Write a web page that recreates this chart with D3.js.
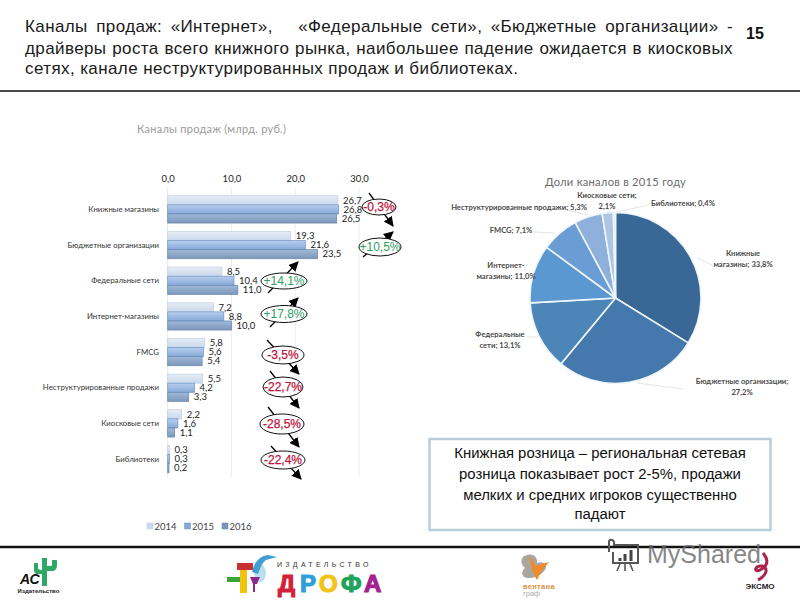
<!DOCTYPE html>
<html>
<head>
<meta charset="utf-8">
<script src="https://d3js.org/d3.v7.min.js"></script>
<style>
  html, body { margin: 0; padding: 0; background: #fff; }
  svg { display: block; }
  text { font-family: Lato, "Open Sans", sans-serif; }
  .slide { font-family: "Liberation Sans", Arial, sans-serif; }
</style>
</head>
<body>
<script>
// data
let channels = ["Книжные магазины", "Бюджетные организации", "Федеральные сети", "Интернет-магазины",
    "FMCG", "Неструктурированные продажи", "Киосковые сети", "Библиотеки"];
let years = ["2014", "2015", "2016"];
let values2014 = [26.7, 19.3, 8.5, 7.2, 5.8, 5.5, 2.2, 0.3];
let values2015 = [26.8, 21.6, 10.4, 8.8, 5.6, 4.2, 1.6, 0.3];
let values2016 = [26.5, 23.5, 11.0, 10.0, 5.4, 3.3, 1.1, 0.2];
let xTicks = [0, 10, 20, 30];
let growth = ["-0,3%", "+10,5%", "+14,1%", "+17,8%", "-3,5%", "-22,7%", "-28,5%", "-22,4%"];
let pieShares = [33.8, 27.2, 13.1, 11.0, 7.1, 5.3, 2.1, 0.4];
let pieLabels = [["Книжные", "магазины; 33,8%"], ["Бюджетные организации;", "27,2%"], ["Федеральные", "сети; 13,1%"],
    ["Интернет-", "магазины; 11,0%"], ["FMCG; 7,1%"], ["Неструктурированные продажи; 5,3%"],
    ["Киосковые сети;", "2,1%"], ["Библиотеки; 0,4%"]];
let titleLines = ["Каналы продаж: «Интернет»,   «Федеральные сети», «Бюджетные организации» -",
    "драйверы роста всего книжного рынка, наибольшее падение ожидается в киосковых",
    "сетях, канале неструктурированных продаж и библиотеках."];
let noteLines = ["Книжная розница – региональная сетевая", "розница показывает рост 2-5%, продажи",
    "мелких и средних игроков существенно", "падают"];

// layout of the hand-placed bits
let barColors = [["#e6edf6", "#c9d8eb"], ["#b7cfee", "#86a8d8"], ["#a0b9d8", "#7c97ba"]];
let barEdges = ["#c3d0e0", "#6f94c2", "#6685ad"];
let pieColors = ["#3a6896", "#4578ad", "#4c86b9", "#5b97d0", "#6a9dd4", "#8eb0da", "#adc6e4", "#dfe9f4"];
let ovals = [
    { cx: 379, cy: 207, rx: 17, ry: 8, x1: 369, y1: 193, x2: 393, y2: 226 },
    { cx: 380, cy: 247, rx: 21, ry: 9, x1: 363, y1: 257, x2: 393, y2: 232 },
    { cx: 284, cy: 281, rx: 23, ry: 8, x1: 268, y1: 293, x2: 298, y2: 262 },
    { cx: 284, cy: 314, rx: 23, ry: 8.5, x1: 270, y1: 327, x2: 298, y2: 298 },
    { cx: 283, cy: 355, rx: 21, ry: 9, x1: 267, y1: 340, x2: 299, y2: 374 },
    { cx: 283, cy: 387, rx: 20, ry: 10, x1: 270, y1: 371, x2: 299, y2: 408 },
    { cx: 282, cy: 424, rx: 22, ry: 10, x1: 268, y1: 407, x2: 299, y2: 447 },
    { cx: 283, cy: 460, rx: 22, ry: 9, x1: 271, y1: 446, x2: 301, y2: 479 }
];
let pieLabelPos = [[743, 256], [742, 384], [500, 337], [506, 268], [511, 233], [519, 210], [607, 198], [683, 206]];
let leaders = [[697, 258, 712, 265], [637, 383, 683, 389], [527, 337, 538, 337], [533, 232, 555, 233],
    [568, 210, 588, 215], [608, 208, 608, 213], [648, 205, 617, 212]];

let svg = d3.select("body").append("svg").attr("width", 800).attr("height", 600);
let defs = svg.append("defs");

svg.append("rect").attr("width", 800).attr("height", 600).attr("fill", "#fff");

// slide heading, first two lines are stretched by their word gaps
svg.selectAll(".title").data(titleLines).enter().append("text")
    .attr("class", "slide")
    .attr("x", 25)
    .attr("y", function (d, i) { return [32, 53.5, 74][i]; })
    .attr("font-size", 17)
    .attr("letter-spacing", 0.4)
    .attr("fill", "#1a1a1a")
    .style("white-space", "pre")
    .text(function (d) { return d; })
    .each(function (d, i) {
        if (i > 1) return;
        let free = 708 - this.getComputedTextLength();
        d3.select(this).style("word-spacing", (free / (d.split(" ").length - 1)) + "px");
    });
svg.append("text").attr("class", "slide").attr("x", 755).attr("y", 38.5).attr("text-anchor", "middle")
    .attr("font-size", 16).attr("font-weight", "bold").attr("fill", "#111").text("15");
svg.append("line").attr("x1", 0).attr("x2", 800).attr("y1", 91).attr("y2", 91).attr("stroke", "#111").attr("stroke-width", 1.6);
svg.append("line").attr("x1", 0).attr("x2", 800).attr("y1", 547).attr("y2", 547).attr("stroke", "#111").attr("stroke-width", 2.5);

svg.append("text").attr("x", 137).attr("y", 133).attr("font-size", 11).attr("fill", "#9a9a9a")
    .attr("letter-spacing", 0.25).text("Каналы продаж (млрд. руб.)");

// bar chart
let x = d3.scaleLinear().domain([0, 30]).range([167.7, 359]);
let y = d3.scaleBand().domain(channels).range([191.5, 477]).paddingInner(0.235).paddingOuter(0.12);
let ySeries = d3.scaleBand().domain(years).range([0, y.bandwidth()]);
let series = [values2014, values2015, values2016];

barColors.forEach(function (c, i) {
    let g = defs.append("linearGradient").attr("id", "bar" + i).attr("x1", 0).attr("x2", 0).attr("y1", 0).attr("y2", 1);
    g.append("stop").attr("offset", "0%").attr("stop-color", c[0]);
    g.append("stop").attr("offset", "100%").attr("stop-color", c[1]);
});

svg.selectAll(".grid").data(xTicks.slice(1)).enter().append("line")
    .attr("x1", function (d) { return x(d); })
    .attr("x2", function (d) { return x(d); })
    .attr("y1", 188).attr("y2", 477)
    .attr("stroke", "#ececec");
svg.append("line").attr("x1", x(0)).attr("x2", x(0)).attr("y1", 188).attr("y2", 477).attr("stroke", "#e4e7eb");

let xAxis = svg.append("g").attr("transform", "translate(0,182)")
    .call(d3.axisTop(x).tickValues(xTicks).tickSize(0).tickPadding(0)
        .tickFormat(function (d) { return d3.format(".1f")(d).replace(".", ","); }));
xAxis.select(".domain").remove();
xAxis.selectAll("text").attr("font-size", 9.5).attr("fill", "#222").style("font-family", "Lato");

let yAxis = svg.append("g").attr("transform", "translate(159,0)")
    .call(d3.axisLeft(y).tickSize(0).tickPadding(0));
yAxis.select(".domain").remove();
yAxis.selectAll("text").attr("font-size", 7.8).attr("fill", "#333").style("font-family", "Lato");

series.forEach(function (vals, s) {
    let yr = years[s];
    svg.selectAll(".bar" + s).data(vals).enter().append("rect")
        .attr("x", x(0))
        .attr("y", function (d, i) { return y(channels[i]) + ySeries(yr); })
        .attr("width", function (d) { return x(d) - x(0); })
        .attr("height", ySeries.bandwidth())
        .attr("fill", "url(#bar" + s + ")")
        .attr("stroke", barEdges[s])
        .attr("stroke-width", 0.7);
    svg.selectAll(".val" + s).data(vals).enter().append("text")
        .attr("x", function (d) { return x(d) + 5; })
        .attr("y", function (d, i) { return y(channels[i]) + ySeries(yr) + ySeries.bandwidth() / 2 + 3.3; })
        .attr("font-size", 9.5)
        .attr("fill", "#222")
        .text(function (d) { return d3.format(".1f")(d).replace(".", ","); });
});

// growth ovals with their arrows
defs.append("marker").attr("id", "head").attr("viewBox", "0 0 10 10").attr("refX", 9).attr("refY", 5)
    .attr("markerWidth", 10).attr("markerHeight", 10).attr("markerUnits", "userSpaceOnUse").attr("orient", "auto")
    .append("path").attr("d", "M0,0L10,5L0,10Z").attr("fill", "#000");

let badge = svg.selectAll(".badge").data(ovals).enter().append("g");
badge.append("line")
    .attr("x1", function (d) { return d.x1; }).attr("y1", function (d) { return d.y1; })
    .attr("x2", function (d) { return d.x2; }).attr("y2", function (d) { return d.y2; })
    .attr("stroke", "#000").attr("stroke-width", 1.3).attr("marker-end", "url(#head)");
badge.append("ellipse")
    .attr("cx", function (d) { return d.cx; }).attr("cy", function (d) { return d.cy; })
    .attr("rx", function (d) { return d.rx; }).attr("ry", function (d) { return d.ry; })
    .attr("fill", "#fff").attr("stroke", "#111").attr("stroke-width", 1);
badge.append("text")
    .attr("class", "slide")
    .attr("x", function (d) { return d.cx; }).attr("y", function (d) { return d.cy + 4.2; })
    .attr("text-anchor", "middle").attr("font-size", 12)
    .attr("fill", function (d, i) { return growth[i][0] === "+" ? "#2e9e5f" : "#c0143c"; })
    .attr("stroke", function (d, i) { return growth[i][0] === "+" ? "none" : "#c0143c"; })
    .attr("stroke-width", 0.25)
    .text(function (d, i) { return growth[i]; });

// legend
let legendX = d3.scalePoint().domain(years).range([147, 222]);
let legend = svg.selectAll(".legend").data(years).enter().append("g");
legend.append("rect")
    .attr("x", function (d) { return legendX(d); }).attr("y", 523).attr("width", 6).attr("height", 6)
    .attr("fill", function (d, i) { return barColors[i][1]; })
    .attr("stroke", function (d, i) { return barEdges[i]; }).attr("stroke-width", 0.5);
legend.append("text")
    .attr("x", function (d) { return legendX(d) + 7.5; }).attr("y", 530)
    .attr("font-size", 9.5).attr("fill", "#444").text(function (d) { return d; });

// pie
svg.append("text").attr("x", 615.5).attr("y", 186).attr("text-anchor", "middle").attr("font-size", 11.2)
    .attr("fill", "#6b6b6b").attr("letter-spacing", 0.25).text("Доли каналов в 2015 году");

let pie = d3.pie().sort(null);
let arc = d3.arc().innerRadius(0).outerRadius(85.5);
let pieG = svg.append("g").attr("transform", "translate(615.5,298)");
pieG.selectAll("path").data(pie(pieShares)).enter().append("path")
    .attr("d", arc)
    .attr("fill", function (d, i) { return pieColors[i]; })
    .attr("stroke", "#eef6fb")
    .attr("stroke-width", 1.6);

svg.selectAll(".leader").data(leaders).enter().append("line")
    .attr("x1", function (d) { return d[0]; }).attr("y1", function (d) { return d[1]; })
    .attr("x2", function (d) { return d[2]; }).attr("y2", function (d) { return d[3]; })
    .attr("stroke", "#d8d8d8").attr("stroke-width", 0.7);

let pieText = svg.selectAll(".pieLabel").data(pieLabels).enter().append("text")
    .attr("text-anchor", "middle").attr("font-size", 7.6).attr("font-weight", 700).attr("fill", "#4a4a4a");
pieText.each(function (lines, i) {
    d3.select(this).selectAll("tspan").data(lines).enter().append("tspan")
        .attr("x", pieLabelPos[i][0])
        .attr("y", function (d, j) { return pieLabelPos[i][1] + j * 10.5; })
        .text(function (d) { return d; });
});

// note box
svg.append("rect").attr("x", 429.5).attr("y", 439).attr("width", 341).attr("height", 91)
    .attr("fill", "#fff").attr("stroke", "#b9cdd9").attr("stroke-width", 2.5);
svg.selectAll(".note").data(noteLines).enter().append("text")
    .attr("class", "slide")
    .attr("x", 600)
    .attr("y", function (d, i) { return [458, 479, 500, 519][i]; })
    .attr("text-anchor", "middle").attr("font-size", 14.9).attr("fill", "#111")
    .text(function (d) { return d; });

// publisher logos along the foot of the slide
let foot = svg.append("g");
foot.append("path").attr("d", "M42,586V574H38C35,574 34,572 34,569V563H38V568C38,569 39,570 42,570V558H47V566H51C52,566 52,565 52,564V560H57V565C57,569 55,571 52,571H47V586Z").attr("fill", "#2fa866");
foot.append("text").attr("class", "slide").attr("x", 20).attr("y", 584).attr("font-size", 14).attr("font-weight", "bold").attr("font-style", "italic").attr("fill", "#111").text("АС");
foot.append("text").attr("class", "slide").attr("x", 38.5).attr("y", 593).attr("text-anchor", "middle").attr("font-size", 6).attr("font-weight", "bold").attr("fill", "#222").text("Издательство");

foot.append("rect").attr("x", 237).attr("y", 563).attr("width", 16).attr("height", 7).attr("fill", "#c8312f");
foot.append("rect").attr("x", 227).attr("y", 577).attr("width", 14).attr("height", 5).attr("fill", "#3aa535");
foot.append("rect").attr("x", 240).attr("y", 570).attr("width", 7).attr("height", 23).attr("fill", "#f1c40f");
foot.append("ellipse").attr("cx", 260).attr("cy", 573).attr("rx", 6).attr("ry", 9).attr("fill", "#bcdff0");
foot.append("path").attr("d", "M252,572C254,562 260,556 268,555L277,557L266,560C262,563 260,568 258,574Z").attr("fill", "#3f9fd0");
foot.append("path").attr("d", "M250,577H260L257,584H255V592H253V584Z").attr("fill", "#8e2a8e");
foot.append("text").attr("class", "slide").attr("x", 277).attr("y", 567).attr("font-size", 7).attr("letter-spacing", 3.3).attr("fill", "#333").text("ИЗДАТЕЛЬСТВО");
let drofa = [["Д", "#d21f3b", 278], ["Р", "#2e9fd8", 300], ["О", "#f2c318", 319], ["Ф", "#1fa35b", 341], ["А", "#a3238e", 364]];
foot.selectAll(".drofa").data(drofa).enter().append("text")
    .attr("class", "slide").attr("x", function (d) { return d[2]; }).attr("y", 592)
    .attr("font-size", 24).attr("font-weight", "bold")
    .attr("fill", function (d) { return d[1]; })
    .attr("stroke", function (d) { return d[1]; }).attr("stroke-width", 1.2)
    .text(function (d) { return d[0]; });

foot.append("path").attr("d", "M524,556C532,552 538,556 537,563C544,560 549,566 544,571C540,576 534,578 530,578C522,579 520,572 525,568C521,565 520,559 524,556Z").attr("fill", "#aaa59d");
foot.append("path").attr("d", "M530,556L536,566L549,562L541,572L537,580C534,574 530,566 530,556Z").attr("fill", "#ee8a2c");
foot.append("text").attr("class", "slide").attr("x", 523).attr("y", 588.5).attr("font-size", 7.5).attr("font-weight", "bold").attr("letter-spacing", 0.3).attr("fill", "#dd8f3f").text("вентана");
foot.append("text").attr("class", "slide").attr("x", 523).attr("y", 596).attr("font-size", 7.5).attr("fill", "#aaa").text("граф");

foot.append("path").attr("d", "M763,553C769,560 768,566 760,570C753,573 755,565 762,566C768,568 768,574 758,580").attr("fill", "none").attr("stroke", "#a8244f").attr("stroke-width", 3);
foot.append("text").attr("class", "slide").attr("x", 760).attr("y", 589).attr("text-anchor", "middle").attr("font-size", 8).attr("font-weight", "bold").attr("fill", "#222").text("ЭКСМО");

// watermark
foot.append("path").attr("d", "M609,552V542C609,539 613,539 614,542V545H638V563H613V552").attr("fill", "none").attr("stroke", "#555").attr("stroke-width", 2);
foot.append("path").attr("d", "M620,561V558M625,561V554M631,561V550").attr("stroke", "#444").attr("stroke-width", 3);
foot.append("path").attr("d", "M620,564L617,571M625,564V571M630,564L633,571").attr("stroke", "#555").attr("stroke-width", 1.6);
foot.append("text").attr("class", "slide").attr("x", 647).attr("y", 563).attr("font-size", 25).attr("fill", "#666").attr("fill-opacity", 0.8).text("MyShared");
</script>
</body>
</html>
